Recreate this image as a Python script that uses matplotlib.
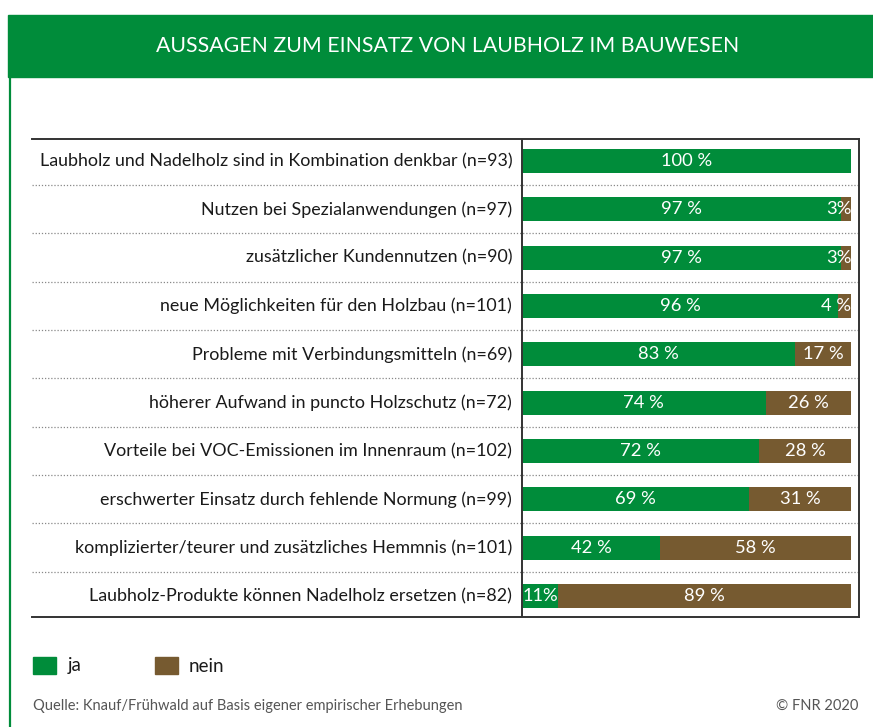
import matplotlib
matplotlib.use("Agg")
import matplotlib.pyplot as plt
from matplotlib.patches import Rectangle
from matplotlib.lines import Line2D

# Daten
kategorien = [
    "Laubholz und Nadelholz sind in Kombination denkbar (n=93)",
    "Nutzen bei Spezialanwendungen (n=97)",
    "zusätzlicher Kundennutzen (n=90)",
    "neue Möglichkeiten für den Holzbau (n=101)",
    "Probleme mit Verbindungsmitteln (n=69)",
    "höherer Aufwand in puncto Holzschutz (n=72)",
    "Vorteile bei VOC-Emissionen im Innenraum (n=102)",
    "erschwerter Einsatz durch fehlende Normung (n=99)",
    "komplizierter/teurer und zusätzliches Hemmnis (n=101)",
    "Laubholz-Produkte können Nadelholz ersetzen (n=82)",
]
ja = [100, 97, 97, 96, 83, 74, 72, 69, 42, 11]
nein = [0, 3, 3, 4, 17, 26, 28, 31, 58, 89]
ja_text = ["100 %", "97 %", "97 %", "96 %", "83 %", "74 %", "72 %", "69 %", "42 %", "11%"]
nein_text = ["", "3%", "3%", "4 %", "17 %", "26 %", "28 %", "31 %", "58 %", "89 %"]

GRUEN = "#008C3A"
BRAUN = "#765A30"
FONT = "Lato"

W, H = 873, 727
fig = plt.figure(figsize=(W / 100, H / 100), dpi=100)

# Kopfzeile
fig.patches.append(Rectangle((8 / W, 1 - 77 / H), 1, 62 / H, transform=fig.transFigure,
                             color=GRUEN, zorder=0))
fig.text(448 / W, 1 - 46 / H, "AUSSAGEN ZUM EINSATZ VON LAUBHOLZ IM BAUWESEN",
         color="white", fontsize=15.3, family=FONT, ha="center", va="center")
fig.lines.append(Line2D([9.5 / W, 9.5 / W], [0, 1 - 77 / H], transform=fig.transFigure,
                        color=GRUEN, lw=1.6))

# Diagramm
ax = fig.add_axes([32 / W, 1 - 617 / H, (859 - 32) / W, (617 - 139) / H])
y = list(range(len(kategorien)))
ax.barh(y, ja, height=0.5, color=GRUEN, zorder=3)
ax.barh(y, nein, left=ja, height=0.5, color=BRAUN, zorder=3)

ax.set_xlim(-148.9, 102.4)
ax.set_ylim(9.435, -0.455)
ax.axvline(0, color="#333333", lw=1.4, zorder=4)
ax.hlines([i + 0.5 for i in y[:-1]], -148.9, 102.4, color="#888888",
          linestyles=(0, (1, 1.5)), lw=0.9, zorder=2)

for i in y:
    ax.text(-3, i, kategorien[i], ha="right", va="center", fontsize=12.9,
            family=FONT, color="#1a1a1a")
    if ja[i] >= 15:
        ax.text(ja[i] / 2, i, ja_text[i], ha="center", va="center", color="white",
                fontsize=13.2, family=FONT, zorder=5)
    else:
        ax.text(0.2, i, ja_text[i], ha="left", va="center", color="white",
                fontsize=13.2, family=FONT, zorder=5)
    if nein[i] >= 15:
        ax.text(ja[i] + nein[i] / 2, i, nein_text[i], ha="center", va="center",
                color="white", fontsize=13.2, family=FONT, zorder=5)
    elif nein[i] > 0:
        ax.text(100, i, nein_text[i], ha="right", va="center", color="white",
                fontsize=13.2, family=FONT, zorder=5)

ax.set_xticks([])
ax.set_yticks([])
ax.spines["left"].set_visible(False)
for s in ["top", "right", "bottom"]:
    ax.spines[s].set_color("#333333")
    ax.spines[s].set_linewidth(1.4)

# Legende
fig.patches.append(Rectangle((33 / W, 1 - 674 / H), 23 / W, 17 / H,
                             transform=fig.transFigure, color=GRUEN))
fig.text(68 / W, 1 - 666 / H, "ja", fontsize=13.5, family=FONT, va="center", color="#1a1a1a")
fig.patches.append(Rectangle((155 / W, 1 - 674 / H), 23 / W, 17 / H,
                             transform=fig.transFigure, color=BRAUN))
fig.text(189 / W, 1 - 666 / H, "nein", fontsize=13.5, family=FONT, va="center", color="#1a1a1a")

# Quelle
fig.text(33 / W, 1 - 706 / H, "Quelle: Knauf/Frühwald auf Basis eigener empirischer Erhebungen",
         fontsize=10.5, family=FONT, va="center", color="#555555")
fig.text(858 / W, 1 - 706 / H, "© FNR 2020", fontsize=10.5, family=FONT, va="center",
         ha="right", color="#555555")

fig.savefig("out.png", dpi=100)
